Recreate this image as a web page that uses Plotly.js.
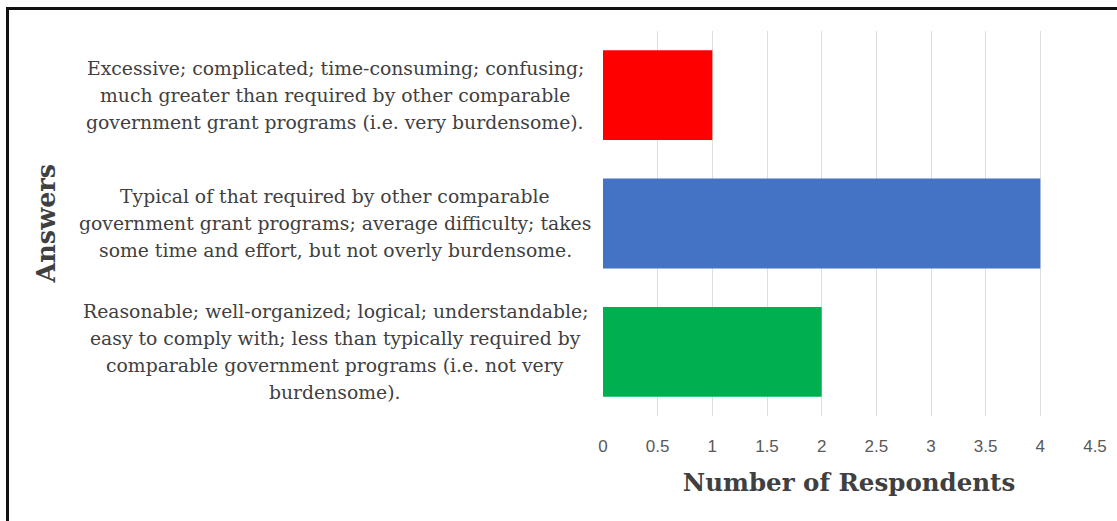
<!DOCTYPE html>
<html>
<head>
<meta charset="utf-8">
<script src="https://cdn.plot.ly/plotly-3.0.1.min.js"></script>
<style>
  html, body { margin: 0; padding: 0; background: #ffffff; }
  #wrap { position: relative; width: 1117px; height: 521px; overflow: hidden; }
  #chart { position: absolute; left: 0; top: 0; width: 1117px; height: 521px; }
  #frame {
    position: absolute; left: 6px; top: 7px; width: 1130px; height: 540px;
    border-left: 3px solid #111111; border-top: 3px solid #111111;
    pointer-events: none;
  }
</style>
</head>
<body>
<div id="wrap">
  <div id="chart"></div>
  <div id="frame"></div>
</div>
<script>
// Survey answers (bottom to top) and how many respondents chose each
const categories = ['Reasonable', 'Typical', 'Excessive'];
const respondents = [2, 4, 1];
const barColors = ['#00B050', '#4472C4', '#FF0000'];

// Wrapped answer text, one array of lines per category
const answerLines = [
  ['Reasonable; well-organized; logical; understandable;',
   'easy to comply with; less than typically required by',
   'comparable government programs (i.e. not very',
   'burdensome).'],
  ['Typical of that required by other comparable',
   'government grant programs; average difficulty; takes',
   'some time and effort, but not overly burdensome.'],
  ['Excessive; complicated; time-consuming; confusing;',
   'much greater than required by other comparable',
   'government grant programs (i.e. very burdensome).']
];

const xTickVals = [0, 0.5, 1, 1.5, 2, 2.5, 3, 3.5, 4, 4.5];
const xTickText = ['0', '0.5', '1', '1.5', '2', '2.5', '3', '3.5', '4', '4.5'];

const W = 1117, H = 521;
const M = { l: 603, r: 22, t: 31, b: 105 };
const plotW = W - M.l - M.r;
const toPaperX = px => (px - M.l) / plotW;

const serif = 'DejaVu Serif, Liberation Serif, serif';
const textColor = '#404040';
const lineGap = 27;

const annotations = [];
answerLines.forEach((lines, ci) => {
  const n = lines.length;
  lines.forEach((line, li) => {
    annotations.push({
      xref: 'paper', yref: 'y',
      x: toPaperX(335), y: categories[ci],
      yshift: ((n - 1) / 2 - li) * lineGap,
      xanchor: 'center', yanchor: 'middle',
      text: line, showarrow: false,
      font: { family: serif, size: 18.8, color: textColor }
    });
  });
});

// Vertical axis title
annotations.push({
  xref: 'paper', yref: 'paper',
  x: toPaperX(45), y: 0.5,
  xanchor: 'center', yanchor: 'middle',
  text: '<b>Answers</b>', textangle: -90, showarrow: false,
  font: { family: serif, size: 25.5, color: textColor }
});

const trace = {
  type: 'bar',
  orientation: 'h',
  y: categories,
  x: respondents,
  marker: { color: barColors, line: { width: 0 } },
  hoverinfo: 'x+y'
};

const layout = {
  width: W, height: H,
  margin: M,
  paper_bgcolor: 'rgba(0,0,0,0)',
  plot_bgcolor: 'rgba(0,0,0,0)',
  showlegend: false,
  bargap: 0.3,
  xaxis: {
    range: [0, 4.5],
    tickvals: xTickVals,
    ticktext: xTickText,
    showgrid: true,
    gridcolor: '#DEDEDE',
    gridwidth: 1,
    zeroline: false,
    showline: false,
    ticks: 'outside',
    ticklen: 15,
    tickcolor: 'rgba(0,0,0,0)',
    tickfont: { family: 'Liberation Sans, Arial, sans-serif', size: 17, color: '#595959' },
    title: {
      text: '<b>Number of Respondents</b>',
      font: { family: serif, size: 24.5, color: textColor },
      standoff: 18
    },
    automargin: false,
    fixedrange: true
  },
  yaxis: {
    type: 'category',
    categoryorder: 'array',
    categoryarray: categories,
    showticklabels: false,
    showgrid: false,
    zeroline: false,
    showline: false,
    ticks: '',
    automargin: false,
    fixedrange: true
  },
  annotations: annotations
};

Plotly.newPlot('chart', [trace], layout, { displayModeBar: false, staticPlot: true });
</script>
</body>
</html>
